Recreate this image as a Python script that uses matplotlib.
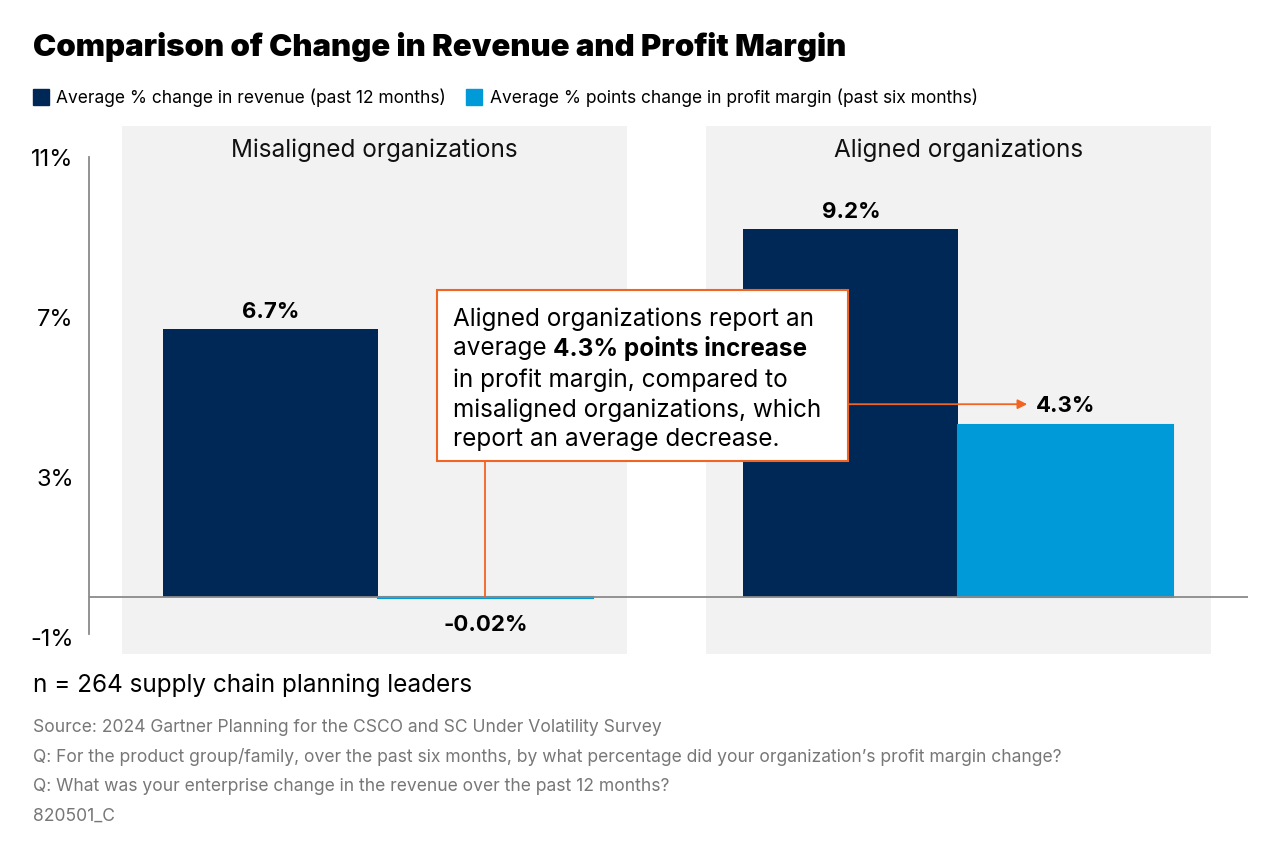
import matplotlib.pyplot as plt
from matplotlib.patches import Rectangle

plt.rcParams['font.family'] = ['Inter', 'DejaVu Sans']

groups = ["Misaligned organizations", "Aligned organizations"]
revenue = [6.7, 9.2]
margin = [-0.02, 4.3]
revenue_labels = ["6.7%", "9.2%"]
margin_labels = ["-0.02%", "4.3%"]
yticks = [-1, 3, 7, 11]
ytick_labels = ["-1%", "3%", "7%", "11%"]

NAVY = "#002856"
BLUE = "#009AD8"
GREY_BG = "#F2F2F2"
ORANGE = "#F26422"

W, H = 1280, 853
fig = plt.figure(figsize=(12.8, 8.53), dpi=100)


def fx(px):
    return px / W


def fy(py):
    return 1 - py / H


ax = fig.add_axes([fx(89), fy(655), (1248 - 89) / W, (655 - 127) / H])
ax.set_facecolor("none")

centers = [0, 2.7]
panel_shift = [-0.016, 0.002]
bw = 1.0
ax.set_xlim(-1.344, 4.047)
ax.set_ylim(-1.425, 11.775)

for i, c in enumerate(centers):
    pc = c + panel_shift[i]
    ax.axvspan(pc - 1.174, pc + 1.174, color=GREY_BG, zorder=0, lw=0)
    ax.text(pc, 11.2, groups[i], ha="center", va="center", fontsize=17.5, color="#111")

rev_x = [c - bw / 2 for c in centers]
mar_x = [c + bw / 2 for c in centers]
ax.bar(rev_x, revenue, width=bw, color=NAVY, lw=0, zorder=2)
ax.bar(mar_x, margin, width=bw, color=BLUE, edgecolor=BLUE, lw=1.5, zorder=2)

for x, v, s in zip(rev_x, revenue, revenue_labels):
    ax.text(x, v + 0.45, s, ha="center", va="center", fontsize=16, fontweight="bold")
ax.text(mar_x[0], margin[0] - 0.65, margin_labels[0], ha="center", va="center",
        fontsize=16, fontweight="bold")
ax.text(mar_x[1], margin[1] + 0.5, margin_labels[1], ha="center", va="center",
        fontsize=16, fontweight="bold")

ax.axhline(0, color="#8a8a8a", lw=1.3, zorder=3)
for s in ["top", "right", "bottom"]:
    ax.spines[s].set_visible(False)
ax.spines["left"].set_color("#8a8a8a")
ax.spines["left"].set_linewidth(1.3)
ax.spines["left"].set_bounds(-0.93, 11)
ax.set_xticks([])
ax.set_yticks(yticks)
ax.set_yticklabels(ytick_labels, fontsize=17)
ax.tick_params(axis="y", length=0, pad=11)

# callout box with leader lines
bx0, bx1 = 0.274, 2.186
by0, by1 = 3.4, 7.675
ax.add_patch(Rectangle((bx0, by0), bx1 - bx0, by1 - by0, facecolor="white",
                       edgecolor=ORANGE, lw=1.5, zorder=5))
ax.plot([mar_x[0], mar_x[0]], [0, by0], color=ORANGE, lw=1.3, zorder=4)
ax.annotate("", xy=(mar_x[1] - 0.18, margin[1] + 0.52), xytext=(bx1, margin[1] + 0.52),
            arrowprops=dict(arrowstyle="-|>", color=ORANGE, lw=1.3,
                            mutation_scale=14, shrinkA=0, shrinkB=0), zorder=4)

lines = ["Aligned organizations report an", None, "in profit margin, compared to",
         "misaligned organizations, which", "report an average decrease."]
tx = 0.349
ty = [6.975, 6.225, 5.45, 4.7, 3.95]
fs_box = 17.5
for y, line in zip(ty, lines):
    if line is not None:
        ax.text(tx, y, line, ha="left", va="center", fontsize=fs_box, zorder=6)
t1 = ax.text(tx, ty[1], "average ", ha="left", va="center", fontsize=fs_box, zorder=6)
ax.annotate("4.3% points increase", xy=(1, 0.5), xycoords=t1, ha="left", va="center",
            fontsize=fs_box, fontweight="bold", zorder=6)

# titles, legend, notes
fig.text(fx(33), fy(47), "Comparison of Change in Revenue and Profit Margin",
         fontsize=22.4, fontweight="black", ha="left", va="center")
fig.patches.append(Rectangle((fx(33), fy(106)), 16 / W, 16 / H, color=NAVY,
                             transform=fig.transFigure, figure=fig))
fig.text(fx(56), fy(98), "Average % change in revenue (past 12 months)", fontsize=12.5,
         ha="left", va="center")
fig.patches.append(Rectangle((fx(466), fy(106)), 16 / W, 16 / H, color=BLUE,
                             transform=fig.transFigure, figure=fig))
fig.text(fx(490), fy(98), "Average % points change in profit margin (past six months)",
         fontsize=12.5, ha="left", va="center")

fig.text(fx(33), fy(685), "n = 264 supply chain planning leaders", fontsize=17.5,
         ha="left", va="center")
notes = ["Source: 2024 Gartner Planning for the CSCO and SC Under Volatility Survey",
         "Q: For the product group/family, over the past six months, by what percentage did your organization\u2019s profit margin change?",
         "Q: What was your enterprise change in the revenue over the past 12 months?",
         "820501_C"]
for i, n in enumerate(notes):
    fig.text(fx(33), fy(728 + i * 29.5), n, fontsize=12.6, color="#777777", ha="left", va="center")

fig.savefig("out.png", dpi=100)
